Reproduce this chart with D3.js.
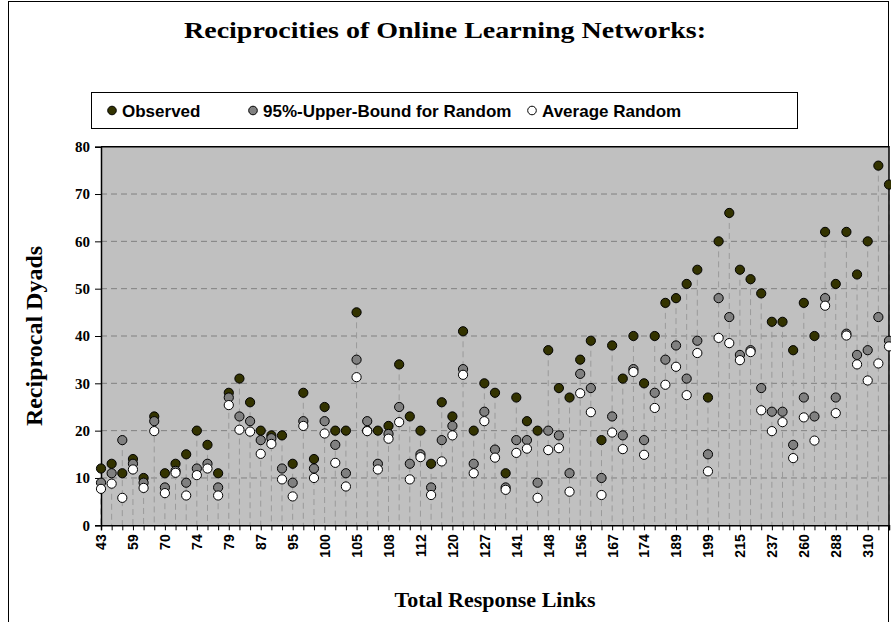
<!DOCTYPE html>
<html>
<head>
<meta charset="utf-8">
<script src="https://cdn.jsdelivr.net/npm/d3@7"></script>
<style>
  body { margin: 0; background: #fff; }
  svg { display: block; }
</style>
</head>
<body>
<div id="main"></div>
<script>
// tick labels shown on the x axis (every third network)
const tickLabels = ["43", "59", "70", "74", "79", "87", "95", "100", "105", "108", "112", "120", "127",
    "141", "148", "156", "167", "174", "189", "199", "215", "237", "260", "288", "310"];

const observed = [12, 13, 11, 14, 10, 23, 11, 13, 15, 20, 17, 11, 28, 31, 26, 20, 19, 19, 13, 28,
    14, 25, 20, 20, 45, 20, 20, 21, 34, 23, 20, 13, 26, 23, 41, 20, 30, 28, 11, 27,
    22, 20, 37, 29, 27, 35, 39, 18, 38, 31, 40, 30, 40, 47, 48, 51, 54, 27, 60, 66,
    54, 52, 49, 43, 43, 37, 47, 40, 62, 51, 62, 53, 60, 76, 72];

const upperBound = [9, 11, 18, 13, 9, 22, 8, 11.5, 9, 12, 13, 8, 27, 23, 22, 18, 18.4, 12, 9, 22,
    12, 22, 17, 11, 35, 22, 13, 19.3, 25, 13, 15, 8, 18, 21, 33, 13, 24, 16, 8, 18,
    18, 9, 20, 19, 11, 32, 29, 10, 23, 19, 33, 18, 28, 35, 38, 31, 39, 15, 48, 44,
    36, 37, 29, 24, 24, 17, 27, 23, 48, 27, 40.5, 36, 37, 44, 39];

const avgRandom = [7.7, 8.8, 5.8, 11.8, 7.9, 19.9, 6.8, 11.1, 6.3, 10.6, 12, 6.3, 25.4, 20.2, 19.8, 15.1, 17.2, 9.7, 6.1, 21,
    10, 19.4, 13.2, 8.2, 31.3, 19.9, 11.8, 18.3, 21.8, 9.7, 14.4, 6.4, 13.5, 19, 31.8, 11, 22, 14.3, 7.5, 15.3,
    16.2, 5.8, 15.9, 16.3, 7.1, 27.9, 23.9, 6.4, 19.6, 16.1, 32.4, 14.9, 24.8, 29.7, 33.5, 27.5, 36.4, 11.4, 39.6, 38.5,
    34.9, 36.6, 24.3, 19.9, 21.8, 14.2, 22.8, 17.9, 46.4, 23.7, 40.1, 34, 30.6, 34.2, 37.8];

const seriesNames = ["Observed", "95%-Upper-Bound for Random", "Average Random"];
const seriesColors = ["#333300", "#808080", "#ffffff"];

const ctx = {
    W: 891,
    H: 622,
    left: 101,
    right: 889,
    top: 146.7,
    bottom: 525.3,
};

function createViz() {
    let svg = d3.select("#main").append("svg")
        .attr("width", ctx.W)
        .attr("height", ctx.H);

    // outer chart frame
    svg.append("rect")
        .attr("x", 8.5).attr("y", 1.5)
        .attr("width", 880).attr("height", 640)
        .attr("fill", "#fff").attr("stroke", "#000").attr("stroke-width", 1);

    let idx = d3.range(observed.length);
    let x = d3.scalePoint().domain(idx).range([ctx.left, ctx.right]);
    let y = d3.scaleLinear().domain([0, 80]).range([ctx.bottom, ctx.top]);

    // plot area
    svg.append("rect")
        .attr("x", ctx.left).attr("y", ctx.top)
        .attr("width", ctx.right - ctx.left).attr("height", ctx.bottom - ctx.top)
        .attr("fill", "#c0c0c0");

    // dashed gridlines
    svg.append("g").selectAll("line")
        .data(d3.range(10, 80, 10))
        .enter().append("line")
        .attr("x1", ctx.left).attr("x2", ctx.right)
        .attr("y1", d => y(d)).attr("y2", d => y(d))
        .attr("stroke", "#808080")
        .attr("stroke-dasharray", "6,4");

    // drop lines from the highest marker down to the axis
    svg.append("g").selectAll("line")
        .data(idx)
        .enter().append("line")
        .attr("x1", d => x(d)).attr("x2", d => x(d))
        .attr("y1", d => y(Math.max(observed[d], upperBound[d], avgRandom[d])))
        .attr("y2", ctx.bottom)
        .attr("stroke", "#9a9a9a")
        .attr("stroke-dasharray", "6,4");

    // top/right border of plot
    svg.append("path")
        .attr("d", `M${ctx.left},${ctx.top}H${ctx.right}V${ctx.bottom}`)
        .attr("fill", "none").attr("stroke", "#000").attr("stroke-width", 1.5);

    // axes
    let yAxis = svg.append("g")
        .attr("transform", `translate(${ctx.left},0)`)
        .call(d3.axisLeft(y).tickValues(d3.range(0, 90, 10)).tickSize(6).tickPadding(5));
    yAxis.selectAll("text")
        .attr("font-family", "'Liberation Serif', 'Times New Roman', serif")
        .attr("font-weight", "bold").attr("font-size", 15).attr("fill", "#000");

    let xAxis = svg.append("g")
        .attr("transform", `translate(0,${ctx.bottom})`)
        .call(d3.axisBottom(x).tickSize(5)
            .tickFormat(d => d % 3 === 0 ? tickLabels[d / 3] : ""));
    xAxis.selectAll("text")
        .attr("font-family", "'Liberation Sans', Arial, sans-serif")
        .attr("font-weight", "bold").attr("font-size", 14).attr("fill", "#000")
        .attr("transform", "rotate(-90)")
        .attr("text-anchor", "end")
        .attr("x", -9).attr("y", 0).attr("dy", "0.35em");
    svg.selectAll(".domain").attr("stroke", "#000").attr("stroke-width", 1.5);

    // series markers
    let allSeries = [observed, upperBound, avgRandom];
    allSeries.forEach(function (vals, k) {
        svg.append("g").selectAll("circle")
            .data(vals)
            .enter().append("circle")
            .attr("cx", (d, i) => x(i))
            .attr("cy", d => y(d))
            .attr("r", 4.6)
            .attr("fill", seriesColors[k])
            .attr("stroke", "#000")
            .attr("stroke-width", 1);
    });

    // title
    svg.append("text")
        .attr("x", 445).attr("y", 38)
        .attr("text-anchor", "middle")
        .attr("font-family", "'Liberation Serif', 'Times New Roman', serif")
        .attr("font-weight", "bold").attr("font-size", 23)
        .attr("textLength", 522).attr("lengthAdjust", "spacingAndGlyphs")
        .text("Reciprocities of Online Learning Networks:");

    // legend
    let lg = svg.append("g");
    lg.append("rect")
        .attr("x", 91.5).attr("y", 92.5).attr("width", 706).attr("height", 36)
        .attr("fill", "#fff").attr("stroke", "#000");
    let legendX = [112, 253, 532];
    seriesNames.forEach(function (name, k) {
        lg.append("circle")
            .attr("cx", legendX[k]).attr("cy", 110.5).attr("r", 4.3)
            .attr("fill", seriesColors[k]).attr("stroke", "#000");
        lg.append("text")
            .attr("x", legendX[k] + 10).attr("y", 116.5)
            .attr("font-family", "'Liberation Sans', Arial, sans-serif")
            .attr("font-weight", "bold").attr("font-size", 17)
            .text(name);
    });

    // axis titles
    svg.append("text")
        .attr("transform", "translate(42,336) rotate(-90)")
        .attr("text-anchor", "middle")
        .attr("font-family", "'Liberation Serif', 'Times New Roman', serif")
        .attr("font-weight", "bold").attr("font-size", 24)
        .text("Reciprocal Dyads");

    svg.append("text")
        .attr("x", 495).attr("y", 607)
        .attr("text-anchor", "middle")
        .attr("font-family", "'Liberation Serif', 'Times New Roman', serif")
        .attr("font-weight", "bold").attr("font-size", 22)
        .text("Total Response Links");
}

createViz();
</script>
</body>
</html>
